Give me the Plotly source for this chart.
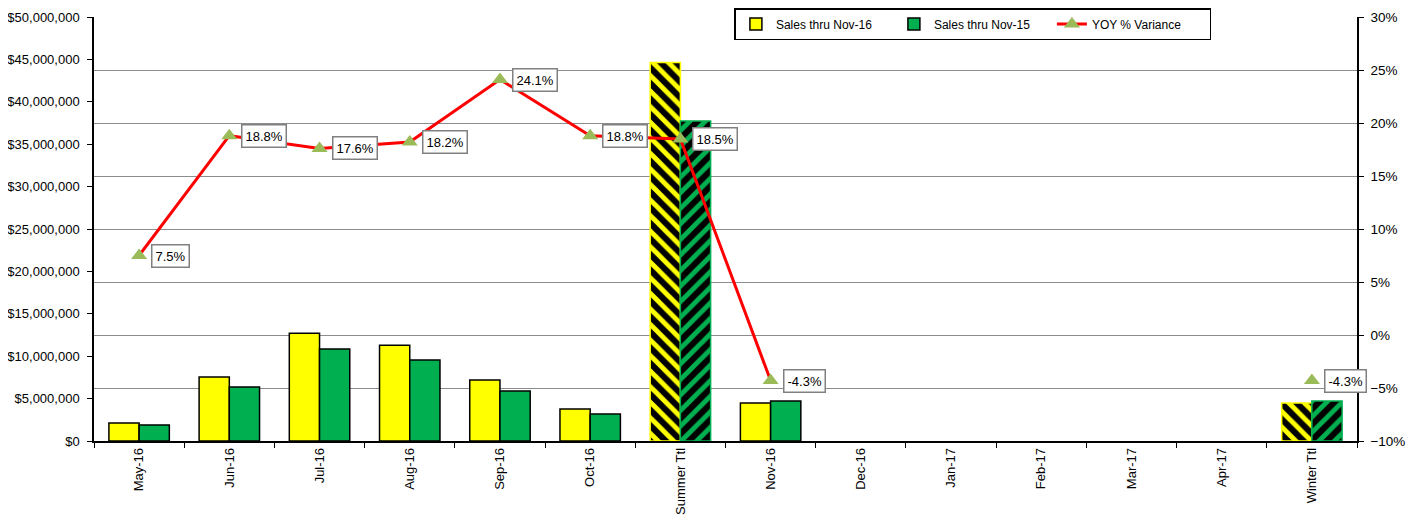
import plotly.graph_objects as go

categories = ["May-16", "Jun-16", "Jul-16", "Aug-16", "Sep-16", "Oct-16", "Summer Ttl",
              "Nov-16", "Dec-16", "Jan-17", "Feb-17", "Mar-17", "Apr-17", "Winter Ttl"]
sales_2016 = [2120000, 7550000, 12700000, 11300000, 7200000, 3770000, 44640000,
              4480000, None, None, None, None, None, 4480000]
sales_2015 = [1900000, 6370000, 10850000, 9550000, 5900000, 3180000, 37750000,
              4720000, None, None, None, None, None, 4720000]
yoy_var = [0.075, 0.188, 0.176, 0.182, 0.241, 0.188, 0.185,
           -0.043, None, None, None, None, None, -0.043]
total_cats = ["Summer Ttl", "Winter Ttl"]

FONT = "Liberation Sans, Arial, sans-serif"
YELLOW = "#FFFF00"
GREEN = "#00B050"

def styles(base, stripe):
    shapes, fg, bg, lc = [], [], [], []
    for c in categories:
        if c in total_cats:
            shapes.append(stripe); fg.append(base); bg.append("#000000"); lc.append(base)
        else:
            shapes.append(""); fg.append(base); bg.append(base); lc.append("#000000")
    return shapes, fg, bg, lc

fig = go.Figure()
for name, vals, base, stripe in [("Sales thru Nov-16", sales_2016, YELLOW, "\\"),
                                 ("Sales thru Nov-15", sales_2015, GREEN, "/")]:
    sh, fg, bg, lc = styles(base, stripe)
    fig.add_trace(go.Bar(
        x=categories, y=vals, name=name,
        marker=dict(color=base, line=dict(color=lc, width=1.5),
                    pattern=dict(shape=sh, fgcolor=fg, bgcolor=bg, size=11, solidity=0.45,
                                 fillmode="replace", fgopacity=1)),
    ))

fig.add_trace(go.Scatter(
    x=categories, y=yoy_var, name="YOY % Variance", yaxis="y2",
    mode="lines+markers", connectgaps=False,
    line=dict(color="#FF0000", width=3),
    marker=dict(symbol="triangle-up", size=14, color="#9BBB59"),
))

for c, v in zip(categories, yoy_var):
    if v is not None:
        fig.add_annotation(x=c, y=v, xref="x", yref="y2", text=f"{v*100:.1f}%",
                           showarrow=False, xanchor="left", yanchor="middle", xshift=12,
                           bgcolor="white", bordercolor="#808080", borderwidth=1.5, borderpad=3,
                           font=dict(family=FONT, size=13, color="black"))

fig.update_layout(
    width=1416, height=525,
    margin=dict(l=86, r=67, t=9, b=92, autoexpand=False),
    plot_bgcolor="white", paper_bgcolor="white",
    font=dict(family=FONT, size=13, color="black"),
    barmode="group", bargap=0.33, bargroupgap=0,
    showlegend=True,
    legend=dict(orientation="h", xref="container", yref="container",
                x=0.513, xanchor="left", y=1.0, yanchor="top",
                bgcolor="white", bordercolor="black", borderwidth=1.5,
                font=dict(family=FONT, size=12), entrywidth=113, traceorder="normal"),
    xaxis=dict(type="category", range=[-0.5, len(categories) - 0.5], tickangle=-90,
               showline=True, linecolor="black", linewidth=1.5,
               ticks="outside", tickson="boundaries", ticklen=5, tickcolor="black",
               showgrid=False, tickfont=dict(size=13), automargin=False),
    yaxis=dict(range=[0, 50000000], dtick=5000000, tickformat="$,.0f", showgrid=False,
               showline=True, linecolor="black", linewidth=1.5, ticks="outside", ticklen=5,
               tickcolor="black", zeroline=False, tickfont=dict(size=13), automargin=False,
               ticklabelstandoff=5),
    yaxis2=dict(range=[-0.10, 0.30], dtick=0.05, tickformat=".0%", overlaying="y", side="right",
                showgrid=True, gridcolor="#8C8C8C", gridwidth=1.3,
                showline=True, linecolor="black", linewidth=1.5, ticks="outside", ticklen=5,
                tickcolor="black", zeroline=False, tickfont=dict(size=13.5), automargin=False,
                ticklabelstandoff=4),
)

fig.write_html("out.html")
